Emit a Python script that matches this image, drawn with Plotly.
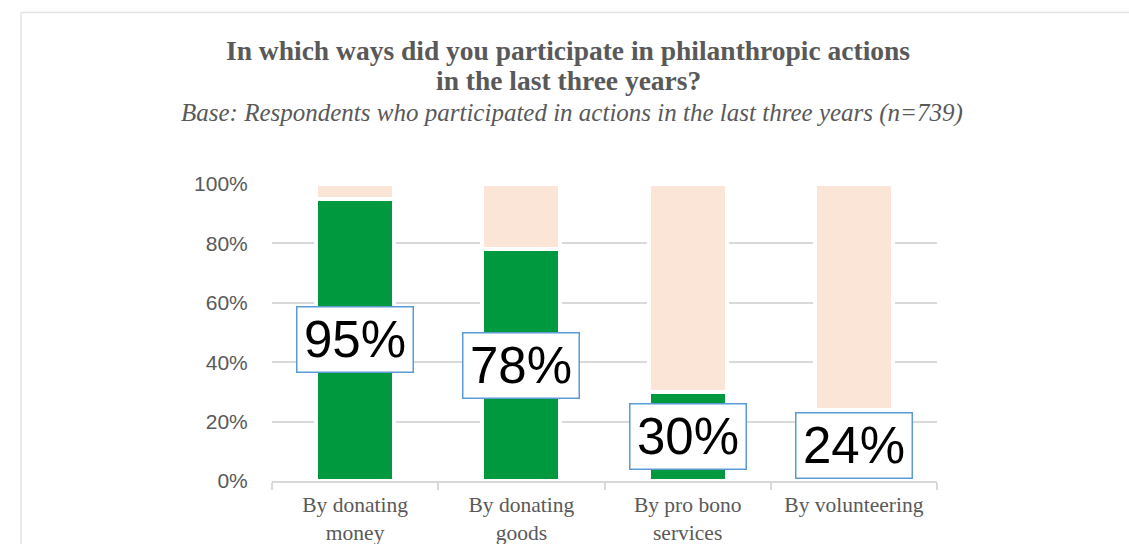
import plotly.graph_objects as go

# Survey results: share of respondents per type of participation
categories = ["By donating<br>money", "By donating<br>goods", "By pro bono<br>services", "By volunteering"]
participated = [95, 78, 30, 24]
remainder = [100 - v for v in participated]
value_labels = ["95%", "78%", "30%", "24%"]
y_ticks = [0, 20, 40, 60, 80, 100]
y_tick_labels = ["0%", "20%", "40%", "60%", "80%", "100%"]

GREEN = "#00993D"
PEACH = "#FBE5D6"
GRAY_TEXT = "#595959"
GRID = "#D9D9D9"
BOX_BORDER = "#5B9BD5"
SERIF = "Liberation Serif, Times New Roman, serif"
SANS = "Liberation Sans, Arial, sans-serif"

fig = go.Figure()
fig.add_trace(go.Bar(
    x=categories, y=participated, marker=dict(color=GREEN, line=dict(color="white", width=4)),
    hoverinfo="skip", showlegend=False,
))
fig.add_trace(go.Bar(
    x=categories, y=remainder, marker=dict(color=PEACH, line=dict(color="white", width=4)),
    hoverinfo="skip", showlegend=False,
))

# Value boxes centred in the green segment
for cat, val, txt in zip(categories, participated, value_labels):
    fig.add_annotation(
        x=cat, y=val / 2, xref="x", yref="y", text=txt, showarrow=False,
        font=dict(family=SANS, size=51, color="black"),
        bgcolor="white", bordercolor=BOX_BORDER, borderwidth=1.5,
        width=115, height=64, borderpad=0, align="center", valign="middle",
    )

# Plot-area geometry in pixels, used to place frame and titles
plot_l, plot_r, plot_t, plot_b = 272, 937, 184, 481
pw, ph = plot_r - plot_l, plot_b - plot_t


def px_x(x):
    return (x - plot_l) / pw


def px_y(y):
    return (plot_b - y) / ph


# Outer chart frame (top and left edges)
fig.add_shape(type="line", xref="paper", yref="paper", x0=px_x(21), x1=px_x(1140),
              y0=px_y(12.5), y1=px_y(12.5), line=dict(color="#E3E3E3", width=1.5))
fig.add_shape(type="line", xref="paper", yref="paper", x0=px_x(21), x1=px_x(21),
              y0=px_y(12.5), y1=px_y(560), line=dict(color="#E3E3E3", width=1.5))

title_lines = ["In which ways did you participate in philanthropic actions", "in the last three years?"]
for line, yc in zip(title_lines, [51, 80]):
    fig.add_annotation(
        xref="paper", yref="paper", x=px_x(568), y=px_y(yc), text=f"<b>{line}</b>",
        showarrow=False, font=dict(family=SERIF, size=27.5, color=GRAY_TEXT),
        xanchor="center", yanchor="middle",
    )
fig.add_annotation(
    xref="paper", yref="paper", x=px_x(572), y=px_y(113),
    text="<i>Base: Respondents who participated in actions in the last three years (n=739)</i>",
    showarrow=False, font=dict(family=SERIF, size=25, color=GRAY_TEXT),
    xanchor="center", yanchor="middle",
)

fig.update_layout(
    barmode="stack", bargap=0.53,
    width=1129, height=544,
    margin=dict(l=plot_l, r=1129 - plot_r, t=plot_t, b=544 - plot_b, autoexpand=False),
    paper_bgcolor="white", plot_bgcolor="white",
    xaxis=dict(
        automargin=False,
        showline=True, linecolor=GRID, linewidth=1.5,
        ticks="outside", tickson="boundaries", ticklen=7, tickcolor=GRID, tickwidth=1.5,
        ticklabelstandoff=3,
        tickfont=dict(family=SERIF, size=21.5, color=GRAY_TEXT),
        showgrid=False,
    ),
    yaxis=dict(
        automargin=False,
        range=[0, 100], tickmode="array", tickvals=y_ticks, ticktext=y_tick_labels,
        showgrid=True, gridcolor=GRID, gridwidth=1.5, zeroline=False,
        ticks="outside", ticklen=19, tickcolor="rgba(0,0,0,0)",
        tickfont=dict(family=SANS, size=21, color=GRAY_TEXT),
    ),
)

fig.write_html("out.html")
